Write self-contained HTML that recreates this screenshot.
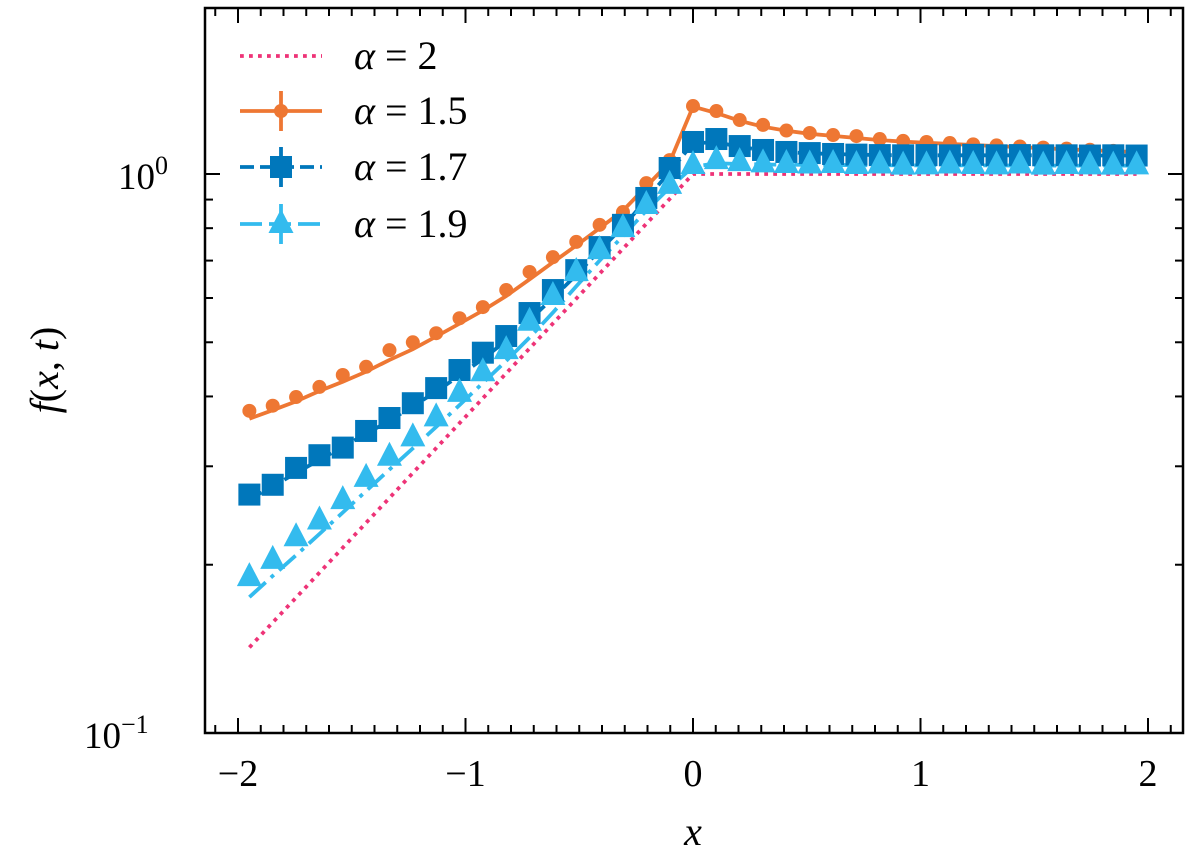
<!DOCTYPE html>
<html><head><meta charset="utf-8"><style>
html,body{margin:0;padding:0;background:#fff}
svg text{font-family:"Liberation Serif","DejaVu Serif",serif;fill:#000}
</style></head><body>
<svg id="chart" width="1200" height="859" viewBox="0 0 1200 859" xmlns="http://www.w3.org/2000/svg">
<g id="marks"></g>
<g id="axes"></g>
<g id="legend"></g>
</svg>
<script>
const xs = [];
for (let k = 0; k < 39; k++) xs.push(-1.95 + k * 0.102632);
const orangeMarkers = [0.377,0.385,0.399,0.416,0.437,0.452,0.484,0.500,0.519,0.552,0.578,0.620,0.668,0.710,0.756,0.811,0.855,0.963,1.059,1.323,1.296,1.249,1.224,1.196,1.184,1.174,1.169,1.155,1.146,1.141,1.136,1.13,1.125,1.12,1.115,1.11,1.105,1.10,1.095];
const orangeLine = [0.365,0.378,0.392,0.409,0.425,0.443,0.465,0.486,0.512,0.540,0.570,0.605,0.648,0.695,0.745,0.800,0.860,0.950,1.050,1.320,1.285,1.245,1.215,1.195,1.180,1.170,1.160,1.150,1.143,1.137,1.132,1.127,1.122,1.117,1.112,1.107,1.103,1.099,1.095];
const darkMarkers = [0.267,0.278,0.298,0.314,0.324,0.347,0.366,0.389,0.414,0.446,0.479,0.513,0.564,0.620,0.673,0.740,0.811,0.906,1.025,1.141,1.155,1.122,1.104,1.095,1.09,1.086,1.083,1.081,1.08,1.081,1.08,1.082,1.08,1.081,1.08,1.08,1.079,1.08,1.079];
const darkLine = [0.262,0.276,0.292,0.308,0.325,0.343,0.362,0.384,0.408,0.436,0.467,0.503,0.548,0.600,0.660,0.730,0.805,0.900,1.010,1.135,1.140,1.118,1.103,1.094,1.089,1.086,1.083,1.081,1.080,1.080,1.080,1.080,1.080,1.080,1.080,1.080,1.079,1.079,1.079];
const lightMarkers = [0.190,0.204,0.224,0.240,0.261,0.286,0.312,0.338,0.367,0.406,0.442,0.484,0.544,0.605,0.668,0.731,0.80,0.880,0.956,1.038,1.059,1.05,1.045,1.042,1.04,1.042,1.038,1.04,1.035,1.036,1.04,1.038,1.036,1.04,1.035,1.038,1.036,1.035,1.036];
const lightLine = [0.175,0.191,0.208,0.227,0.248,0.271,0.296,0.323,0.353,0.386,0.423,0.463,0.510,0.565,0.630,0.700,0.775,0.860,0.945,1.030,1.045,1.042,1.040,1.039,1.038,1.038,1.037,1.037,1.036,1.036,1.036,1.036,1.036,1.035,1.035,1.035,1.035,1.035,1.035];
const xTicks = [-2,-1,0,1,2];
const xTickLabels = ["\u22122","\u22121","0","1","2"];
const seriesLabels = ["2","1.5","1.7","1.9"];

const NS = "http://www.w3.org/2000/svg";
const L=205, R=1183, T=8, B=733;
function sx(x){ return 693 + x*227.5; }
function sy(v){ return 174 - Math.log10(v)*559; }
function mk(tag, attrs, parent){
  const e=document.createElementNS(NS,tag);
  for(const k in attrs) e.setAttribute(k, attrs[k]);
  parent.appendChild(e); return e;
}
const marks=document.getElementById('marks');
const axes=document.getElementById('axes');
const legend=document.getElementById('legend');
const C={mag:"#EE3377",or:"#EE7733",db:"#0077BB",lb:"#33BBEE"};

const defs=mk('defs',{},marks);
const cp=mk('clipPath',{id:'clip'},defs);
mk('rect',{x:L,y:T,width:R-L,height:B-T},cp);
const g=mk('g',{'clip-path':'url(#clip)'},marks);

function pathFrom(vals){ return vals.map((v,i)=>(i?'L':'M')+sx(xs[i]).toFixed(1)+' '+sy(v).toFixed(1)).join(' '); }

const magVals = xs.map(x=> x<0 ? Math.exp(x) : 1);
let p=mk('path',{d:pathFrom(magVals),fill:'none',stroke:C.mag,'stroke-width':3.8,'stroke-dasharray':'3.8 5.2'},g);



p=mk('path',{d:pathFrom(orangeLine),fill:'none',stroke:C.or,'stroke-width':3.8},g);


p=mk('path',{d:pathFrom(darkLine),fill:'none',stroke:C.db,'stroke-width':3.8,'stroke-dasharray':'14 6'},g);


p=mk('path',{d:pathFrom(lightLine),fill:'none',stroke:C.lb,'stroke-width':3.8,'stroke-dasharray':'22 7 4 7'},g);



function circle(cx,cy,parent){ return mk('circle',{cx:cx,cy:cy,r:7,fill:C.or},parent); }
function square(cx,cy,parent){ return mk('rect',{x:cx-11,y:cy-11,width:22,height:22,fill:C.db},parent); }
function tri(cx,cy,parent){ return mk('polygon',{points:`${cx},${cy-15} ${cx+12.5},${cy+9} ${cx-12.5},${cy+9}`,fill:C.lb},parent); }

orangeMarkers.forEach((v,i)=>{ const e=circle(sx(xs[i]),sy(v),g);
 
  });
darkMarkers.forEach((v,i)=>{ const e=square(sx(xs[i]),sy(v),g);
 
  });
lightMarkers.forEach((v,i)=>{ const e=tri(sx(xs[i]),sy(v),g);
 
  });

mk('rect',{x:L,y:T,width:R-L,height:B-T,fill:'none',stroke:'#000','stroke-width':2.5},axes);
for(let i=-21;i<=21;i++){
  const x=i*0.1; const px=sx(x); if(px<L||px>R) continue;
  const major = i%10===0; const len= major?15:8;
  mk('line',{x1:px,y1:B,x2:px,y2:B-len,stroke:'#000','stroke-width':2},axes);
  mk('line',{x1:px,y1:T,x2:px,y2:T+len,stroke:'#000','stroke-width':2},axes);
}
xTicks.forEach((t,i)=>{
  const e=mk('text',{x:sx(t),y:786,'font-size':38,'text-anchor':'middle'},axes);
  e.textContent=xTickLabels[i];
  
  
});
const yMinor=[0.2,0.3,0.4,0.5,0.6,0.7,0.8,0.9,2];
yMinor.forEach(v=>{ const py=sy(v); if(py<T) return;
  mk('line',{x1:L,y1:py,x2:L+8,y2:py,stroke:'#000','stroke-width':2},axes);
  mk('line',{x1:R,y1:py,x2:R-8,y2:py,stroke:'#000','stroke-width':2},axes);
});
[1,0.1].forEach(v=>{ const py=sy(v);
  mk('line',{x1:L,y1:py,x2:L+15,y2:py,stroke:'#000','stroke-width':2},axes);
  mk('line',{x1:R,y1:py,x2:R-15,y2:py,stroke:'#000','stroke-width':2},axes);
});
let t=mk('text',{x:118,y:189,'font-size':37},axes);
t.innerHTML='10<tspan font-size="26" dy="-15">0</tspan>';


t=mk('text',{x:84,y:748,'font-size':37},axes);
t.innerHTML='10<tspan font-size="26" dy="-15">\u22121</tspan>';


t=mk('text',{x:693,y:845,'font-size':40,'font-style':'italic','text-anchor':'middle'},axes);
t.textContent='x';


t=mk('text',{x:0,y:0,'font-size':40,'text-anchor':'middle',transform:'translate(58,370) rotate(-90)'},axes);
t.innerHTML='<tspan font-style="italic">f</tspan>(<tspan font-style="italic">x</tspan>, <tspan font-style="italic">t</tspan>)';



const ly=[56,111,167,224];
const lcol=[C.mag,C.or,C.db,C.lb];
const ldash=['3.8 5.2','none','14 6','22 7'];
ly.forEach((y,i)=>{
  const eg=mk('g',{},legend);
  
  
  const a={x1:240,y1:y,x2:322,y2:y,stroke:lcol[i],'stroke-width':3.8};
  if(ldash[i]!=='none') a['stroke-dasharray']=ldash[i];
  mk('line',a,eg);
  if(i>0){
    mk('line',{x1:281,y1:y-20,x2:281,y2:y+20,stroke:lcol[i],'stroke-width':3.8},eg);
    if(i===1) circle(281,y,eg); else if(i===2) square(281,y,eg); else tri(281,y,eg);
  }
  const tx=mk('text',{x:354,y:y+13,'font-size':40},eg);
  tx.innerHTML='<tspan font-style="italic">\u03b1</tspan> = '+seriesLabels[i];
});
</script>
</body></html>
